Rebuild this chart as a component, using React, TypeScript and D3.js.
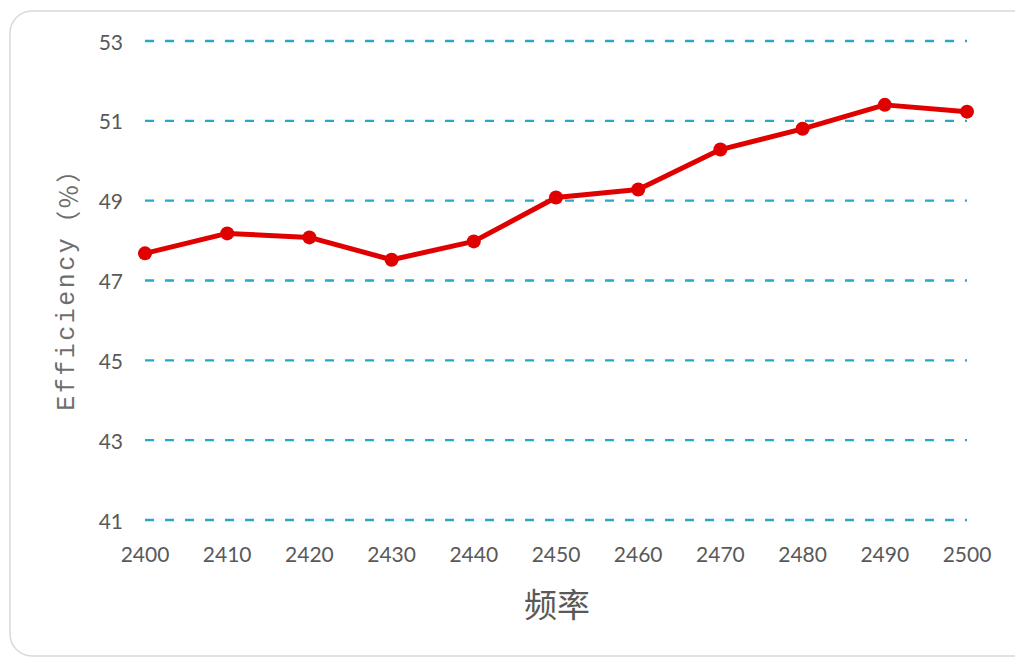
import React, { useEffect } from "react";
import * as d3 from "d3";

const frequencies = [2400, 2410, 2420, 2430, 2440, 2450, 2460, 2470, 2480, 2490, 2500];
const efficiency = [47.68, 48.18, 48.08, 47.52, 47.98, 49.08, 49.28, 50.28, 50.8, 51.4, 51.23];
const yTicks = [41, 43, 45, 47, 49, 51, 53];
const xTitle = "频率";
const yTitleMain = "Efficiency";
const yTitleUnit = "（%）";

export default function App() {
  useEffect(() => {
    document.body.style.margin = "0";
  }, []);
  const W = 1015;
  const H = 660;
  const x = d3.scaleLinear().domain([2400, 2500]).range([145, 967]);
  const y = d3.scaleLinear().domain([41, 53]).range([520, 41]);
  const line = d3
    .line<number>()
    .x((_, i) => x(frequencies[i]))
    .y((d) => y(d));
  const textColor = "#595959";
  const tickFont = "Lato, 'Open Sans', 'Liberation Sans', sans-serif";
  return (
    <svg width={W} height={H} style={{ position: "absolute", left: 0, top: 0, background: "#fff" }}>
      <rect x={10} y={11} width={1030} height={645} rx={22} ry={22} fill="#fff" stroke="#d9d9d9" strokeWidth={1.5} />
      {yTicks.map((t) => (
        <g key={t}>
          <line
            x1={x(2400)}
            x2={x(2500)}
            y1={y(t)}
            y2={y(t)}
            stroke="#2aa6c6"
            strokeWidth={2.4}
            strokeDasharray="9,11"
          />
          <text
            x={123}
            y={y(t)}
            textAnchor="end"
            dominantBaseline="central"
            fontFamily={tickFont}
            fontSize={21}
            fill={textColor}
          >
            {t}
          </text>
        </g>
      ))}
      {frequencies.map((f) => (
        <text
          key={f}
          x={x(f)}
          y={553}
          textAnchor="middle"
          dominantBaseline="central"
          fontFamily={tickFont}
          fontSize={21}
          fill={textColor}
        >
          {f}
        </text>
      ))}
      <path d={line(efficiency) || ""} fill="none" stroke="#e00000" strokeWidth={5} strokeLinejoin="round" />
      {efficiency.map((v, i) => (
        <circle key={i} cx={x(frequencies[i])} cy={y(v)} r={7} fill="#e00000" />
      ))}
      <text
        transform={`translate(67, 283) rotate(-90)`}
        textAnchor="middle"
        dominantBaseline="central"
        fontFamily="'Liberation Mono', monospace"
        fontSize={25}
        letterSpacing={2.5}
        fill="#6e6e6e"
      >
        {yTitleMain}
        <tspan fontFamily="'Noto Sans CJK SC', sans-serif">{yTitleUnit}</tspan>
      </text>
      <text
        x={557}
        y={603}
        textAnchor="middle"
        dominantBaseline="central"
        fontFamily="'Noto Sans CJK SC', sans-serif"
        fontSize={33}
        fill={textColor}
      >
        {xTitle}
      </text>
    </svg>
  );
}
